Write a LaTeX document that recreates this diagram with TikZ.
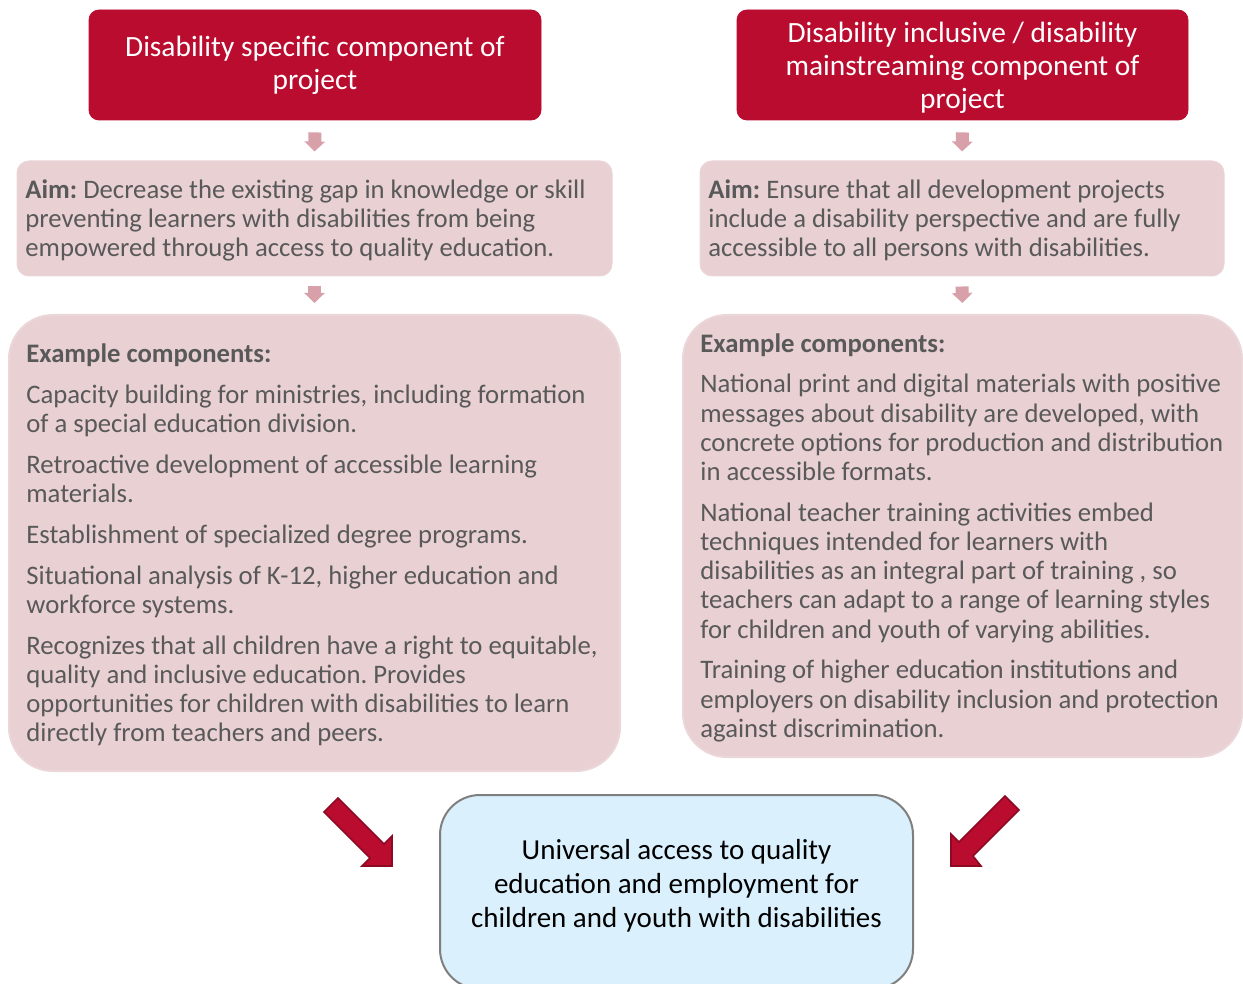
\documentclass[tikz,border=0pt]{standalone}
\usepackage{fontspec}
\setmainfont{Carlito}
\frenchspacing
\usetikzlibrary{arrows.meta,calc}
\definecolor{hdred}{HTML}{BA0C2F}
\definecolor{hdredline}{HTML}{8E0A24}
\definecolor{pinkfill}{HTML}{E8D0D3}
\definecolor{pinkline}{HTML}{EBD6D9}
\definecolor{arrpink}{HTML}{D8A0A9}
\definecolor{bluefill}{HTML}{DAF0FC}
\definecolor{bordergray}{HTML}{7F7F7F}
\definecolor{txtgray}{HTML}{595959}
\tikzset{
  redbox/.style={fill=hdred, draw=hdred, rounded corners=5pt, inner sep=0pt, text=white, align=center, font=\fontsize{14.7}{16.5}\selectfont},
  aimbox/.style={fill=pinkfill, draw=pinkline, line width=0.5pt, rounded corners=6pt, inner sep=0pt},
  exbox/.style={fill=pinkfill, draw=pinkline, line width=1pt, rounded corners=22pt, inner sep=0pt},
  goalbox/.style={fill=bluefill, draw=bordergray, line width=1pt, rounded corners=20pt, inner sep=0pt},
  bodytext/.style={inner sep=0pt, anchor=north west, align=left, text=txtgray, font=\fontsize{13.35}{14.6}\selectfont},
  downarr/.style={draw=arrpink, line width=6.5pt, -{Triangle[width=10pt,length=5pt]}, arrpink},
  bigarr/.style={fill=hdred, draw=hdredline, line width=0.8pt, line join=miter},
}
\begin{document}
\begin{tikzpicture}[x=0.5pt,y=-0.5pt]
\useasboundingbox (0,0) rectangle (1243,984);

% top red boxes
\node[redbox, minimum width=226pt, minimum height=55pt] (rl) at (315,65)
  {\raisebox{-1pt}{Disability specific component of}\\\raisebox{-1pt}{project}};
\node[redbox, minimum width=225.5pt, minimum height=55pt, text depth=0pt] (rr) at (962.5,65)
  {Disability inclusive / disability\\mainstreaming component of\\project};

% aim boxes
\node[aimbox, minimum width=297.5pt, minimum height=57.5pt] (al) at (314.5,218.5) {};
\node[aimbox, minimum width=262pt, minimum height=57.5pt] (ar) at (962,218.5) {};
\node[bodytext] (alt) at (25,177.5)
  {\strut\textbf{Aim:} Decrease the existing gap in knowledge or skill\\
   preventing learners with disabilities from being\\
   empowered through access to quality education.};
\node[bodytext] (art) at (708,177.5)
  {\strut\textbf{Aim:} Ensure that all development projects\\
   include a disability perspective and are fully\\
   accessible to all persons with disabilities.};

% example boxes
\node[exbox, minimum width=305.5pt, minimum height=228pt] (el) at (314.5,543) {};
\node[exbox, minimum width=279.5pt, minimum height=221pt] (er) at (962.5,536) {};
\node[bodytext] (elt) at (26,341.8)
  {\strut\textbf{Example components:}\\[5.8pt]
   Capacity building for ministries, including formation\\
   of a special education division.\\[5.8pt]
   Retroactive development of accessible learning\\
   materials.\\[5.8pt]
   Establishment of specialized degree programs.\\[5.8pt]
   Situational analysis of K-12, higher education and\\
   workforce systems.\\[5.8pt]
   Recognizes that all children have a right to equitable,\\
   quality and inclusive education. Provides\\
   opportunities for children with disabilities to learn\\
   directly from teachers and peers.};
\node[bodytext] (ert) at (700,331.2)
  {\strut\textbf{Example components:}\\[5.8pt]
   National print and digital materials with positive\\
   messages about disability are developed, with\\
   concrete options for production and distribution\\
   in accessible formats.\\[5.8pt]
   National teacher training activities embed\\
   techniques intended for learners with\\
   disabilities as an integral part of training , so\\
   teachers can adapt to a range of learning styles\\
   for children and youth of varying abilities.\\[5.8pt]
   Training of higher education institutions and\\
   employers on disability inclusion and protection\\
   against discrimination.};

% goal box
\node[goalbox, minimum width=236.5pt, minimum height=97pt] (goal) at (676.5,892) {};
\node[inner sep=0pt, align=center, text=black, font=\fontsize{14.5}{17}\selectfont, anchor=north] (goalt) at (676.5,835.2)
  {\strut Universal access to quality\\education and employment for\\children and youth with disabilities};

% small down arrows
\draw[downarr] ($(rl.south)+(0,12)$) -- ($(al.north)+(0,-9)$);
\draw[downarr] ($(al.south)+(0,10)$) -- ($(el.north)+(0,-11)$);
\draw[downarr] ($(rr.south)+(0,12)$) -- ($(ar.north)+(0,-9)$);
\draw[downarr] ($(ar.south)+(0,10)$) -- ($(er.north)+(0,-11)$);

% big arrows
\draw[bigarr] (324,812) -- (338,798) -- (384,844) -- (392,836) -- (392,866) -- (362,866) -- (370,858) -- cycle;
\draw[bigarr] (1019,810) -- (1005,796) -- (959,842) -- (951,834) -- (951,866) -- (981,866) -- (973,856) -- cycle;
\end{tikzpicture}
\end{document}
